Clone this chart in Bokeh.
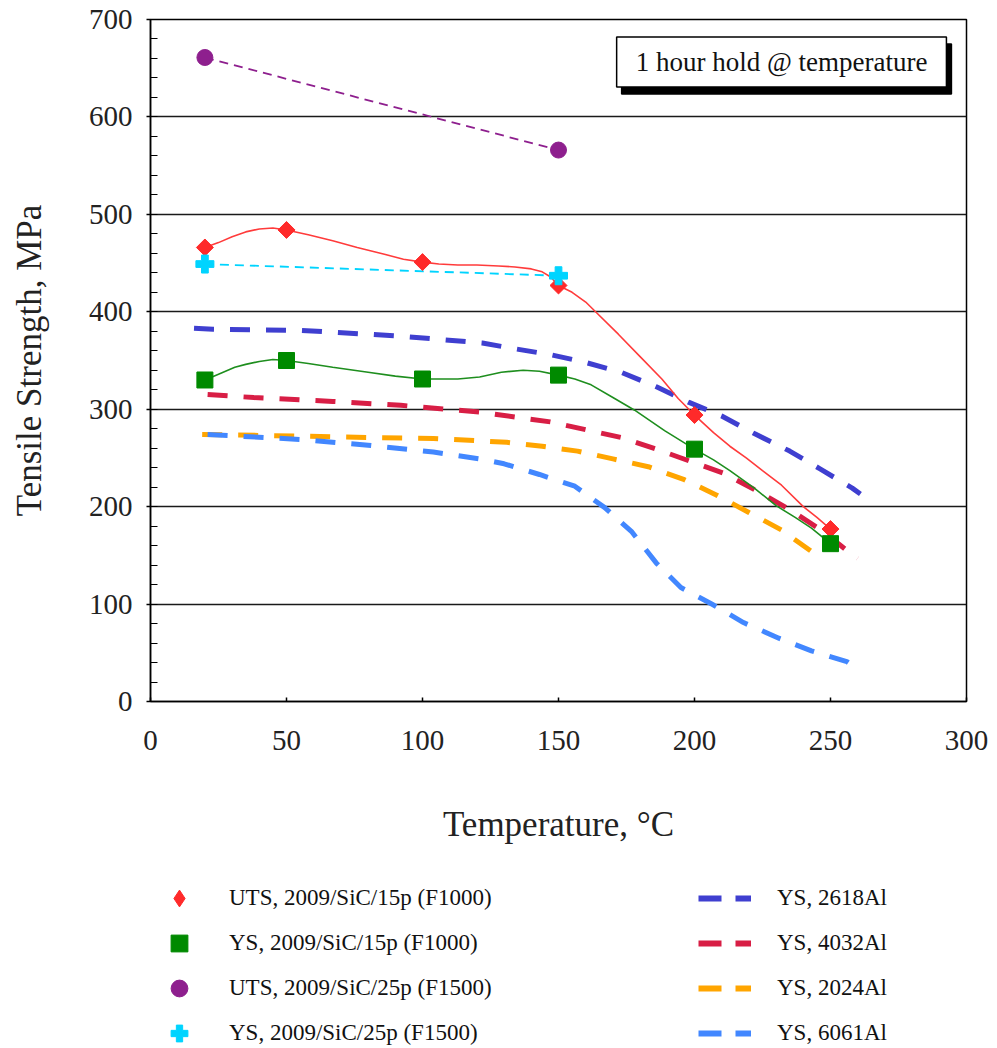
import math
from bokeh.plotting import figure
from bokeh.layouts import column
from bokeh.models import Range1d, FixedTicker, Legend, LegendItem, Label
from bokeh.embed import file_html
from bokeh.resources import INLINE

# ---------------- data ----------------
# measured points
temp_15p = [20, 50, 100, 150, 200, 250]
uts_15p = [466, 484, 451, 427, 294, 177]
ys_15p = [330, 350, 331, 335, 259, 162]

temp_25p = [20, 150]
uts_25p = [661, 566]
ys_25p = [449, 437]

# smoothed trend lines through the 15p points
uts_15p_line_t = [20, 25, 30, 35, 40, 45, 50, 58, 67, 76, 86, 93, 100, 106, 113, 120, 128, 134, 140, 144, 147, 150,
                  155, 160, 164, 172, 180, 188, 194, 200, 207, 213, 219, 225, 232, 240, 245, 250]
uts_15p_line_v = [466, 471, 477, 482, 485, 486, 484, 479, 473, 466, 459, 454, 451, 449, 448, 448, 447, 446, 444, 441, 436, 427,
                  420, 410, 399, 377, 354, 331, 311, 294, 276, 262, 250, 237, 222, 200, 189, 177]

ys_15p_line_t = [20, 25, 31, 35, 40, 45, 50, 58, 67, 80, 90, 100, 106, 113, 121, 129, 137, 143, 150, 156, 162, 170,
                 178, 189, 200, 207, 213, 222, 230, 237, 243, 250]
ys_15p_line_v = [330, 336, 343, 346, 349, 351, 350, 347, 343, 338, 334, 331, 331, 331, 333, 338, 340, 339, 335, 331, 325, 312,
                 299, 278, 259, 248, 237, 219, 201, 189, 178, 162]

# yield strength of unreinforced alloys
t_2618 = [16, 23, 55, 92, 122, 134, 147, 160, 173, 186, 198, 210, 222, 235, 246, 258, 261]
ys_2618 = [383, 382, 381, 375, 368, 362, 356, 348, 338, 323, 307, 293, 275, 257, 239, 219, 213]

t_4032 = [21, 38, 67, 92, 121, 134, 147, 160, 173, 186, 198, 211, 223, 235, 246, 257, 260]
ys_4032 = [315, 312, 308, 304, 297, 292, 287, 279, 271, 259, 247, 234, 216, 197, 177, 153, 147]

t_2024 = [19, 43, 80, 104, 131, 144, 157, 170, 183, 196, 208, 220, 232, 242, 246]
ys_2024 = [274, 273, 271, 270, 266, 262, 257, 249, 241, 228, 212, 194, 176, 156, 148]

t_6061 = [21, 55, 80, 104, 121, 130, 143, 156, 167, 177, 186, 195, 207, 218, 231, 243, 256, 259]
ys_6061 = [274, 269, 263, 256, 249, 244, 233, 221, 199, 174, 142, 117, 99, 81, 65, 52, 41, 35]

y_ticks = [0, 100, 200, 300, 400, 500, 600, 700]
y_minor = list(range(0, 701, 20))
x_ticks = [0, 50, 100, 150, 200, 250, 300]

legend_left_labels = ["UTS, 2009/SiC/15p (F1000)", "YS, 2009/SiC/15p (F1000)",
                      "UTS, 2009/SiC/25p (F1500)", "YS, 2009/SiC/25p (F1500)"]
legend_right_labels = ["YS, 2618Al", "YS, 4032Al", "YS, 2024Al", "YS, 6061Al"]
note_text = "1 hour hold @ temperature"

# ---------------- styles ----------------
FONT = "Liberation Serif"
RED = "#FF2A2A"
GREEN = "#008A00"
PURPLE = "#8E1F8E"
CYAN = "#00D4FF"
C2618 = "#3F3FD0"
C4032 = "#D81E45"
C2024 = "#FFA500"
C6061 = "#4287FF"
DASH_THICK = "20 16"

MAIN_H = 861

# ---------------- main figure ----------------
p = figure(frame_width=816, frame_height=682, output_backend="svg", toolbar_location=None,
           x_range=Range1d(0, 300), y_range=Range1d(0, 700),
           min_border_left=150, min_border_right=31, min_border_top=19,
           min_border_bottom=MAIN_H - 19 - 682,
           background_fill_color="white", border_fill_color="white")

p.outline_line_color = "black"
p.outline_line_width = 1.5

p.xgrid.visible = False
p.ygrid.ticker = FixedTicker(ticks=y_ticks)
p.ygrid.grid_line_color = "#1a1a1a"
p.ygrid.grid_line_width = 1.5

p.yaxis.ticker = FixedTicker(ticks=y_ticks, minor_ticks=y_minor)
p.xaxis.ticker = FixedTicker(ticks=x_ticks)

for ax in (p.xaxis[0], p.yaxis[0]):
    ax.axis_line_color = "black"
    ax.axis_line_width = 1.5
    ax.major_tick_line_color = "black"
    ax.major_tick_line_width = 1.5
    ax.minor_tick_line_color = "black"
    ax.minor_tick_line_width = 1.2
    ax.major_label_text_font = FONT
    ax.major_label_text_font_size = "29px"
    ax.major_label_text_color = "#222222"
    ax.axis_label_text_font = FONT
    ax.axis_label_text_font_style = "normal"
    ax.axis_label_text_color = "#222222"

p.yaxis.major_tick_in = 0
p.yaxis.major_tick_out = 4
p.yaxis.minor_tick_in = 7
p.yaxis.minor_tick_out = 0
p.yaxis.major_label_standoff = 14
p.yaxis.axis_label = "Tensile Strength, MPa"
p.yaxis.axis_label_text_font_size = "35px"
p.yaxis.axis_label_standoff = 37

p.xaxis.major_tick_in = 4
p.xaxis.major_tick_out = 0
p.xaxis.minor_tick_line_color = None
p.xaxis.major_label_standoff = 29
p.xaxis.axis_label = "Temperature, \u00b0C"
p.xaxis.axis_label_text_font_size = "35px"
p.xaxis.axis_label_standoff = 52

p.line(t_2618, ys_2618, line_color=C2618, line_width=5, line_dash=DASH_THICK)
p.line(t_4032, ys_4032, line_color=C4032, line_width=5, line_dash=DASH_THICK)
p.line(t_2024, ys_2024, line_color=C2024, line_width=5, line_dash=DASH_THICK)
p.line(t_6061, ys_6061, line_color=C6061, line_width=5, line_dash=DASH_THICK)

p.line(uts_15p_line_t, uts_15p_line_v, line_color="#FF3B3B", line_width=1.6)
p.line(ys_15p_line_t, ys_15p_line_v, line_color="#1E8E1E", line_width=1.6)
p.line(temp_25p, uts_25p, line_color=PURPLE, line_width=1.8, line_dash="9 6")
p.line(temp_25p, ys_25p, line_color=CYAN, line_width=1.8, line_dash="9 6")

p.scatter(temp_15p, uts_15p, marker="square", angle=math.pi / 4, size=12, fill_color=RED, line_color=RED)
p.scatter(temp_15p, ys_15p, marker="square", size=16, fill_color=GREEN, line_color=GREEN)
p.scatter(temp_25p, uts_25p, marker="circle", size=16, fill_color=PURPLE, line_color=PURPLE)
p.scatter(temp_25p, ys_25p, marker="plus", size=18, fill_color=CYAN, line_color=CYAN)

# note box with shadow
pad = dict(left=19, right=19, top=10, bottom=10)
shadow = Label(x=232, y=656.5, text=note_text, text_align="center", text_baseline="middle",
               text_font=FONT, text_font_size="27px", text_color="black",
               background_fill_color="black", border_line_color="black", border_line_width=1.5,
               padding=pad, x_offset=5, y_offset=-7)
note = Label(x=232, y=656.5, text=note_text, text_align="center", text_baseline="middle",
             text_font=FONT, text_font_size="27px", text_color="#111111",
             background_fill_color="white", border_line_color="black", border_line_width=1.5,
             padding=pad)
p.add_layout(shadow)
p.add_layout(note)

# ---------------- legend panel (below the chart) ----------------
# Key renderers carry the same series but are hidden; only their legend swatches show.
lg = figure(width=997, height=1048 - MAIN_H, output_backend="svg", toolbar_location=None,
            x_range=Range1d(0, 300), y_range=Range1d(0, 700),
            x_axis_location=None, y_axis_location=None,
            min_border_left=0, min_border_right=0, min_border_top=0, min_border_bottom=0,
            outline_line_color=None, background_fill_color="white", border_fill_color="white")
lg.grid.visible = False

k_uts15 = lg.scatter(temp_15p, uts_15p, marker="diamond", fill_color=RED, line_color=RED, visible=False)
k_ys15 = lg.scatter(temp_15p, ys_15p, marker="square", fill_color=GREEN, line_color=GREEN, visible=False)
k_uts25 = lg.scatter(temp_25p, uts_25p, marker="circle", fill_color=PURPLE, line_color=PURPLE, visible=False)
k_ys25 = lg.scatter(temp_25p, ys_25p, marker="plus", fill_color=CYAN, line_color=CYAN, visible=False)
k2618 = lg.line(t_2618, ys_2618, line_color=C2618, line_width=6, line_dash="23 14", visible=False)
k4032 = lg.line(t_4032, ys_4032, line_color=C4032, line_width=6, line_dash="23 14", visible=False)
k2024 = lg.line(t_2024, ys_2024, line_color=C2024, line_width=6, line_dash="23 14", visible=False)
k6061 = lg.line(t_6061, ys_6061, line_color=C6061, line_width=6, line_dash="23 14", visible=False)


def make_legend(labels, renderers, loc, gw, standoff):
    return Legend(items=[LegendItem(label=l, renderers=[r]) for l, r in zip(labels, renderers)],
                  location=loc, orientation="vertical",
                  glyph_width=gw, glyph_height=42, label_height=26, spacing=3,
                  label_standoff=standoff, padding=0, margin=0,
                  label_text_font=FONT, label_text_font_size="23px", label_text_color="#111111",
                  inactive_fill_alpha=0,
                  background_fill_alpha=0, border_line_alpha=0)


lg.add_layout(make_legend(legend_left_labels, [k_uts15, k_ys15, k_uts25, k_ys25], (8, -6), 42, 29))
lg.add_layout(make_legend(legend_right_labels, [k2618, k4032, k2024, k6061], (548, -6), 53, 26))

layout = column(p, lg, spacing=0)
open("out.html", "w").write(file_html(layout, INLINE))
